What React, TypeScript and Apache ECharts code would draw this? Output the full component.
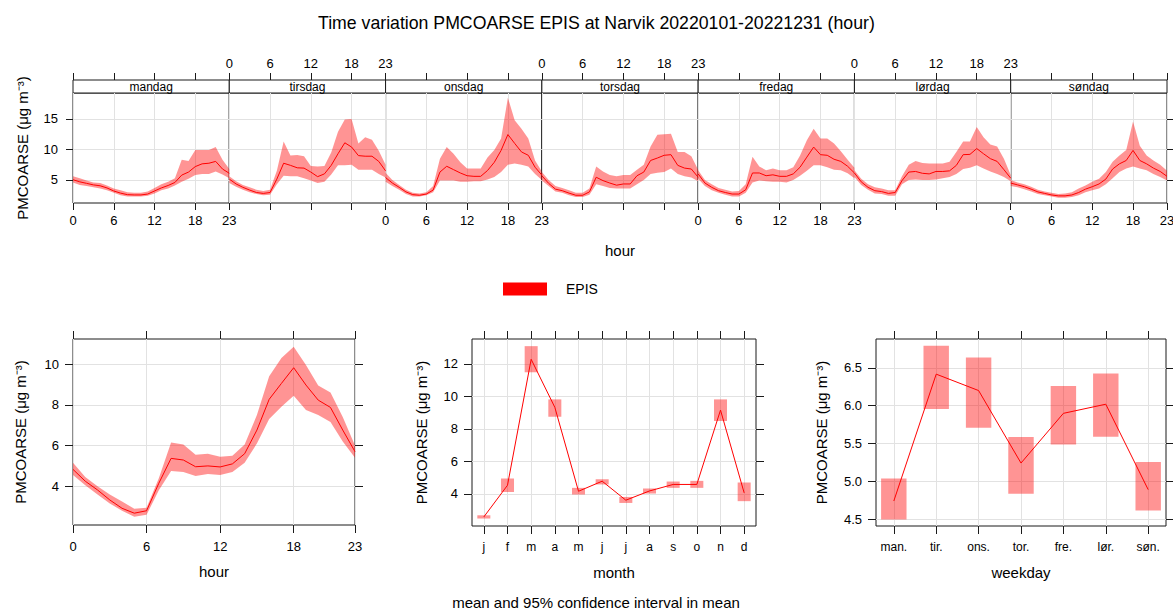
import React, { useEffect, useRef } from 'react';
import * as echarts from 'echarts';

const TITLE = 'Time variation PMCOARSE EPIS at Narvik 20220101-20221231 (hour)';
const Y_NAME = 'PMCOARSE (μg m⁻³)';
const SITE = 'EPIS';
const CAPTION = 'mean and 95% confidence interval in mean';

const DAYS = ['mandag', 'tirsdag', 'onsdag', 'torsdag', 'fredag', 'lørdag', 'søndag'];
const HOURS = [0, 1, 2, 3, 4, 5, 6, 7, 8, 9, 10, 11, 12, 13, 14, 15, 16, 17, 18, 19, 20, 21, 22, 23];
const HOUR_TICKS = [0, 6, 12, 18, 23];
const MONTHS = ['j', 'f', 'm', 'a', 'm', 'j', 'j', 'a', 's', 'o', 'n', 'd'];
const MONTH_POS = [0, 1, 2, 3, 4, 5, 6, 7, 8, 9, 10, 11];
const WEEKDAYS = ['man.', 'tir.', 'ons.', 'tor.', 'fre.', 'lør.', 'søn.'];
const WEEKDAY_POS = [0, 1, 2, 3, 4, 5, 6];
const DAYHOUR_Y_TICKS = [5, 10, 15];
const HOUR_Y_TICKS = [4, 6, 8, 10];
const MONTH_Y_TICKS = [4, 6, 8, 10, 12];
const WEEKDAY_Y_TICKS = [4.5, 5.0, 5.5, 6.0, 6.5];

// day-hour panels
const MON_MEAN = [5.05, 4.7, 4.45, 4.2, 4.05, 3.7, 3.2, 2.85, 2.6, 2.55, 2.55, 2.7, 3.2, 3.7, 4.1, 4.6, 5.8, 6.3, 7.2, 7.65, 7.75, 8.05, 6.8, 6.1];
const MON_LOWER = [4.6, 4.2, 4.0, 3.8, 3.6, 3.3, 2.9, 2.5, 2.3, 2.3, 2.3, 2.4, 2.8, 3.3, 3.6, 4.1, 4.7, 5.2, 5.8, 6.0, 6.0, 6.4, 5.9, 5.3];
const MON_UPPER = [5.6, 5.3, 4.9, 4.6, 4.5, 4.1, 3.6, 3.3, 3.0, 2.9, 2.9, 3.1, 3.7, 4.3, 4.7, 5.3, 8.3, 8.1, 9.9, 9.9, 9.9, 10.4, 8.3, 6.8];

const TUE_MEAN = [5.15, 4.35, 3.8, 3.35, 2.95, 2.8, 2.95, 5.15, 7.75, 7.4, 7.0, 6.95, 6.3, 5.55, 6.0, 7.4, 9.3, 11.1, 10.4, 9.0, 8.9, 8.9, 8.05, 6.5];
const TUE_LOWER = [4.5, 3.9, 3.4, 3.0, 2.7, 2.5, 2.6, 4.3, 5.7, 5.6, 5.6, 5.3, 4.9, 4.5, 4.7, 5.9, 7.4, 7.4, 7.5, 6.7, 6.7, 6.7, 6.0, 5.4];
const TUE_UPPER = [5.6, 4.8, 4.2, 3.8, 3.4, 3.2, 3.4, 6.5, 11.3, 9.0, 9.1, 8.9, 7.3, 7.2, 7.3, 9.5, 12.9, 14.9, 15.0, 11.0, 12.0, 11.6, 9.8, 7.5];

const WED_MEAN = [5.4, 4.5, 3.8, 3.05, 2.6, 2.5, 2.7, 3.35, 6.3, 7.25, 6.7, 6.15, 5.7, 5.6, 5.6, 6.55, 7.9, 9.85, 12.45, 11.0, 9.6, 9.05, 7.1, 5.8];
const WED_LOWER = [4.7, 4.0, 3.4, 2.7, 2.3, 2.3, 2.5, 3.0, 4.9, 4.9, 4.9, 4.7, 4.7, 4.8, 4.8, 5.1, 5.5, 6.3, 7.5, 7.7, 7.5, 7.2, 6.0, 5.0];
const WED_UPPER = [6.2, 5.0, 4.2, 3.4, 2.9, 2.8, 3.0, 4.0, 8.5, 10.4, 9.3, 7.9, 6.9, 6.9, 6.9, 8.7, 9.9, 11.8, 18.5, 14.8, 13.4, 11.8, 8.2, 6.4];

const THU_MEAN = [5.7, 4.45, 3.5, 3.25, 2.85, 2.5, 2.5, 3.05, 5.45, 4.9, 4.5, 4.15, 4.35, 4.35, 5.7, 6.3, 8.2, 8.6, 9.05, 9.15, 7.4, 6.95, 6.8, 5.45];
const THU_LOWER = [4.9, 4.0, 3.1, 2.9, 2.5, 2.2, 2.2, 2.6, 4.3, 4.0, 3.7, 3.6, 3.6, 3.6, 4.3, 5.0, 6.0, 6.2, 6.3, 6.9, 6.0, 5.6, 5.4, 4.8];
const THU_UPPER = [6.3, 5.0, 4.0, 3.7, 3.3, 2.9, 2.9, 3.6, 7.2, 6.4, 5.8, 5.6, 5.8, 5.8, 6.7, 7.5, 10.5, 12.4, 12.5, 12.6, 9.6, 9.6, 8.9, 6.7];

const FRI_MEAN = [6.0, 4.5, 3.8, 3.25, 2.95, 2.7, 2.7, 3.4, 6.15, 6.15, 5.7, 5.85, 5.6, 5.6, 6.0, 7.1, 8.75, 10.4, 9.15, 9.05, 8.4, 8.05, 7.25, 6.15];
const FRI_LOWER = [5.2, 4.0, 3.3, 2.9, 2.6, 2.3, 2.3, 2.9, 4.6, 4.9, 4.8, 4.7, 4.7, 4.6, 5.0, 5.7, 6.5, 7.4, 7.4, 7.1, 6.7, 6.6, 6.1, 5.3];
const FRI_UPPER = [6.6, 5.0, 4.3, 3.7, 3.4, 3.1, 3.2, 4.3, 8.8, 7.2, 6.6, 6.9, 6.6, 6.6, 7.1, 9.0, 11.5, 13.4, 11.8, 11.8, 11.0, 9.7, 8.3, 7.0];

const SAT_MEAN = [6.15, 4.7, 3.8, 3.25, 3.1, 2.8, 2.95, 4.9, 6.3, 6.4, 6.1, 6.0, 6.4, 6.4, 6.5, 7.4, 9.15, 9.2, 10.15, 9.3, 8.5, 8.05, 6.7, 5.3];
const SAT_LOWER = [5.5, 4.2, 3.4, 2.8, 2.7, 2.4, 2.4, 4.3, 5.0, 5.1, 5.0, 5.0, 5.1, 5.3, 5.5, 6.0, 6.8, 7.0, 7.4, 6.9, 6.4, 6.0, 5.5, 4.8];
const SAT_UPPER = [6.6, 5.2, 4.3, 3.8, 3.6, 3.3, 3.3, 5.6, 7.5, 8.1, 7.8, 7.7, 7.7, 7.7, 8.0, 9.6, 11.3, 11.3, 13.7, 12.0, 10.8, 10.5, 8.5, 5.8];

const SUN_MEAN = [4.5, 4.2, 3.9, 3.5, 3.05, 2.8, 2.55, 2.4, 2.4, 2.55, 2.95, 3.5, 3.9, 4.35, 5.15, 6.8, 7.65, 8.2, 9.85, 8.2, 7.65, 6.95, 6.4, 5.6];
const SUN_LOWER = [4.0, 3.8, 3.5, 3.1, 2.7, 2.5, 2.3, 2.1, 2.1, 2.2, 2.5, 3.0, 3.3, 3.6, 4.3, 5.3, 6.3, 6.9, 7.2, 6.9, 6.6, 6.0, 5.5, 4.9];
const SUN_UPPER = [5.0, 4.6, 4.3, 3.9, 3.4, 3.1, 2.9, 2.7, 2.8, 3.0, 3.6, 4.1, 4.7, 5.2, 6.3, 8.0, 9.0, 9.9, 14.6, 10.6, 9.0, 8.2, 7.5, 6.5];

const DAY_MEANS = [MON_MEAN, TUE_MEAN, WED_MEAN, THU_MEAN, FRI_MEAN, SAT_MEAN, SUN_MEAN];
const DAY_LOWERS = [MON_LOWER, TUE_LOWER, WED_LOWER, THU_LOWER, FRI_LOWER, SAT_LOWER, SUN_LOWER];
const DAY_UPPERS = [MON_UPPER, TUE_UPPER, WED_UPPER, THU_UPPER, FRI_UPPER, SAT_UPPER, SUN_UPPER];

// hour panel
const HOUR_MEAN = [4.83, 4.25, 3.82, 3.33, 2.92, 2.68, 2.8, 4.15, 5.37, 5.29, 4.96, 5.0, 4.95, 5.1, 5.6, 6.76, 8.27, 9.05, 9.82, 8.97, 8.23, 7.87, 6.76, 5.7];
const HOUR_LOWER = [4.55, 4.05, 3.6, 3.15, 2.8, 2.5, 2.6, 3.8, 4.75, 4.7, 4.5, 4.6, 4.55, 4.7, 5.15, 6.1, 7.3, 7.9, 8.45, 7.75, 7.5, 7.15, 6.2, 5.4];
const HOUR_UPPER = [5.15, 4.45, 4.0, 3.6, 3.25, 2.9, 2.95, 4.4, 6.15, 6.05, 5.55, 5.6, 5.45, 5.5, 6.05, 7.5, 9.4, 10.3, 10.85, 9.95, 8.95, 8.6, 7.4, 6.0];

// month panel
const MONTH_MEAN = [2.58, 4.53, 12.29, 9.33, 4.16, 4.78, 3.61, 4.18, 4.58, 4.58, 9.16, 4.06];
const MONTH_LOWER = [2.48, 4.12, 11.49, 8.75, 3.96, 4.58, 3.44, 4.02, 4.37, 4.37, 8.49, 3.55];
const MONTH_UPPER = [2.68, 4.95, 13.1, 9.82, 4.37, 4.9, 3.81, 4.33, 4.76, 4.8, 9.82, 4.7];

// weekday panel
const WEEKDAY_MEAN = [4.745, 6.416, 6.2, 5.245, 5.9, 6.02, 4.895];
const WEEKDAY_LOWER = [4.5, 5.956, 5.71, 4.84, 5.49, 5.59, 4.62];
const WEEKDAY_UPPER = [5.04, 6.79, 6.636, 5.588, 6.26, 6.425, 5.26];

const FONT = '"Liberation Sans", Arial, sans-serif';
const LINE = '#ff0000';
const BAND = 'rgba(255,0,0,0.42)';
const AXIS = '#1a1a1a';
const GRIDLINE = '#e2e2e2';
const TXT = '#000';

function buildOption() {
  const grids: any[] = [];
  const xAxes: any[] = [];
  const yAxes: any[] = [];
  const series: any[] = [];
  const graphics: any[] = [];

  const labelStyle = (size: number) => ({ fontSize: size, color: TXT, fontFamily: FONT });

  const xAxis = (gi: number, position: string, opts: any) => ({
    gridIndex: gi,
    type: 'value',
    position,
    offset: opts.offset || 0,
    min: opts.min,
    max: opts.max,
    axisLine: { show: false, onZero: false },
    axisTick: { show: true, inside: false, length: opts.tickLen, customValues: opts.ticks, lineStyle: { color: AXIS, width: 1 } },
    axisLabel: {
      show: !!opts.showLabels,
      customValues: opts.ticks,
      margin: opts.margin || 8,
      formatter: opts.formatter,
      ...labelStyle(opts.fontSize || 13),
    },
    splitLine: { show: !!opts.split, lineStyle: { color: GRIDLINE, width: 1 } },
    name: opts.name || '',
    nameLocation: 'middle',
    nameGap: opts.nameGap || 30,
    nameTextStyle: labelStyle(15),
  });

  const yAxis = (gi: number, position: string, opts: any) => ({
    gridIndex: gi,
    type: 'value',
    position,
    min: opts.min,
    max: opts.max,
    axisLine: { show: false, onZero: false },
    axisTick: { show: !!opts.showTicks, inside: false, length: opts.tickLen, customValues: opts.ticks, lineStyle: { color: AXIS, width: 1 } },
    axisLabel: {
      show: !!opts.showLabels,
      customValues: opts.ticks,
      margin: opts.margin || 8,
      formatter: opts.formatter,
      ...labelStyle(13),
    },
    splitLine: { show: !!opts.split, lineStyle: { color: GRIDLINE, width: 1 } },
    name: opts.name || '',
    nameLocation: 'middle',
    nameGap: opts.nameGap || 40,
    nameTextStyle: labelStyle(15),
  });

  // confidence band drawn as one polygon through the axes' own coordinate mapping
  const bandSeries = (xi: number, yi: number, xs: number[], lo: number[], hi: number[], mean: number[], name?: string) => [
    {
      type: 'custom', xAxisIndex: xi, yAxisIndex: yi, silent: true, z: 1, clip: true,
      data: xs.map((x, k) => [x, lo[k], hi[k]]),
      encode: { x: 0, y: [1, 2] },
      renderItem: (params: any, api: any) => {
        if (params.dataIndexInside !== 0) return null;
        const n = params.dataInsideLength;
        const upper: number[][] = [];
        const lower: number[][] = [];
        for (let k = 0; k < n; k++) {
          upper.push(api.coord([api.value(0, k), api.value(2, k)]));
          lower.push(api.coord([api.value(0, k), api.value(1, k)]));
        }
        return {
          type: 'polygon',
          shape: { points: upper.concat(lower.reverse()) },
          style: { fill: BAND, stroke: 'none' },
        };
      },
    },
    {
      type: 'line', name, xAxisIndex: xi, yAxisIndex: yi,
      data: xs.map((x, k) => [x, mean[k]]), symbol: 'none', silent: true,
      lineStyle: { color: LINE, width: 1 }, itemStyle: { color: LINE }, z: 5,
    },
  ];

  const rectSeries = (xi: number, yi: number, xs: number[], lo: number[], hi: number[], frac: number) => ({
    type: 'custom', xAxisIndex: xi, yAxisIndex: yi, silent: true, z: 1,
    data: xs.map((x, k) => [x, lo[k], hi[k]]),
    encode: { x: 0, y: [1, 2] },
    renderItem: (params: any, api: any) => {
      const x = api.value(0);
      const top = api.coord([x, api.value(2)]);
      const bot = api.coord([x, api.value(1)]);
      const w = api.size([1, 0])[0] * frac;
      return {
        type: 'rect',
        shape: { x: top[0] - w / 2, y: top[1], width: w, height: bot[1] - top[1] },
        style: { fill: BAND, stroke: 'none' },
      };
    },
  });

  // ---------- top: day-hour panels ----------
  const T_LEFT = 73, T_RIGHT = 1167, T_TOP = 93, T_BOTTOM = 203, STRIP_TOP = 80;
  const pw = (T_RIGHT - T_LEFT) / DAYS.length;
  DAYS.forEach((day, i) => {
    const gi = grids.length;
    const left = T_LEFT + i * pw;
    grids.push({ left, top: T_TOP, width: pw, height: T_BOTTOM - T_TOP, show: true, borderColor: AXIS, borderWidth: 1, backgroundColor: 'transparent', outerBoundsMode: 'none', containLabel: false });
    const xb = xAxes.length;
    xAxes.push(xAxis(gi, 'bottom', { min: 0, max: 23, ticks: HOUR_TICKS, tickLen: 7, showLabels: i % 2 === 0, margin: 11, split: true }));
    xAxes.push(xAxis(gi, 'top', { min: 0, max: 23, ticks: HOUR_TICKS, tickLen: 7, showLabels: i % 2 === 1, margin: 10, offset: T_TOP - STRIP_TOP }));
    const yl = yAxes.length;
    yAxes.push(yAxis(gi, 'left', { min: 1.23, max: 19.26, ticks: DAYHOUR_Y_TICKS, tickLen: 7, showTicks: i === 0, showLabels: i === 0, margin: 15, split: true, name: i === 0 ? Y_NAME : '', nameGap: 43 }));
    if (i === DAYS.length - 1) {
      yAxes.push(yAxis(gi, 'right', { min: 1.23, max: 19.26, ticks: DAYHOUR_Y_TICKS, tickLen: 7, showTicks: true }));
    }
    series.push(...bandSeries(xb, yl, HOURS, DAY_LOWERS[i], DAY_UPPERS[i], DAY_MEANS[i]));
    graphics.push({
      type: 'rect', silent: true,
      shape: { x: left, y: STRIP_TOP, width: pw, height: T_TOP - STRIP_TOP },
      style: { fill: '#fff', stroke: AXIS, lineWidth: 1 },
    });
    graphics.push({
      type: 'text', silent: true, x: left + pw / 2, y: (STRIP_TOP + T_TOP) / 2 + 0.5,
      style: { text: day, fill: TXT, font: `12px ${FONT}`, textAlign: 'center', textVerticalAlign: 'middle' },
    });
  });
  graphics.push({
    type: 'text', silent: true, x: (T_LEFT + T_RIGHT) / 2, y: 250,
    style: { text: 'hour', fill: TXT, font: `15px ${FONT}`, textAlign: 'center', textVerticalAlign: 'middle' },
  });

  // ---------- bottom panels ----------
  const B_TOP = 339;
  const addPanel = (p: any) => {
    const gi = grids.length;
    grids.push({ left: p.left, top: B_TOP, width: p.width, height: p.height, show: true, borderColor: AXIS, borderWidth: 1, backgroundColor: 'transparent', outerBoundsMode: 'none', containLabel: false });
    const xi = xAxes.length;
    xAxes.push(xAxis(gi, 'bottom', { min: p.xMin, max: p.xMax, ticks: p.xTicks, tickLen: 8, showLabels: true, margin: 15, split: true, formatter: p.xFormatter, name: p.xName, nameGap: 39, fontSize: p.xFont }));
    xAxes.push(xAxis(gi, 'top', { min: p.xMin, max: p.xMax, ticks: p.xTicks, tickLen: 8 }));
    const yi = yAxes.length;
    yAxes.push(yAxis(gi, 'left', { min: p.yMin, max: p.yMax, ticks: p.yTicks, tickLen: 8, showTicks: true, showLabels: true, margin: 14, split: true, formatter: p.yFormatter, name: Y_NAME, nameGap: p.yNameGap }));
    yAxes.push(yAxis(gi, 'right', { min: p.yMin, max: p.yMax, ticks: p.yTicks, tickLen: 8, showTicks: true }));
    return { xi, yi };
  };

  const hp = addPanel({ left: 73, width: 282, height: 186, xMin: 0, xMax: 23, xTicks: HOUR_TICKS, xName: 'hour', yMin: 2.1, yMax: 11.23, yTicks: HOUR_Y_TICKS, yNameGap: 45 });
  series.push(...bandSeries(hp.xi, hp.yi, HOURS, HOUR_LOWER, HOUR_UPPER, HOUR_MEAN, SITE));

  const mp = addPanel({ left: 472, width: 284, height: 187, xMin: -0.5, xMax: 11.5, xTicks: MONTH_POS, xFormatter: (v: number) => MONTHS[Math.round(v)], xName: 'month', xFont: 12, yMin: 2.02, yMax: 13.54, yTicks: MONTH_Y_TICKS, yNameGap: 43 });
  series.push(rectSeries(mp.xi, mp.yi, MONTH_POS, MONTH_LOWER, MONTH_UPPER, 0.55));
  series.push({ type: 'line', xAxisIndex: mp.xi, yAxisIndex: mp.yi, data: MONTH_POS.map((x, k) => [x, MONTH_MEAN[k]]), symbol: 'none', silent: true, lineStyle: { color: LINE, width: 1 }, z: 5 });

  const wp = addPanel({ left: 876, width: 290, height: 187, xMin: -0.42, xMax: 6.42, xTicks: WEEKDAY_POS, xFormatter: (v: number) => WEEKDAYS[Math.round(v)], xName: 'weekday', xFont: 12, yMin: 4.416, yMax: 6.879, yTicks: WEEKDAY_Y_TICKS, yFormatter: (v: number) => v.toFixed(1), yNameGap: 47 });
  series.push(rectSeries(wp.xi, wp.yi, WEEKDAY_POS, WEEKDAY_LOWER, WEEKDAY_UPPER, 0.6));
  series.push({ type: 'line', xAxisIndex: wp.xi, yAxisIndex: wp.yi, data: WEEKDAY_POS.map((x, k) => [x, WEEKDAY_MEAN[k]]), symbol: 'none', silent: true, lineStyle: { color: LINE, width: 1 }, z: 5 });

  graphics.push({
    type: 'text', silent: true, x: 596, y: 602,
    style: { text: CAPTION, fill: TXT, font: `15px ${FONT}`, textAlign: 'center', textVerticalAlign: 'middle' },
  });

  return {
    animation: false,
    backgroundColor: '#fff',
    title: {
      text: TITLE, left: 318, top: 14, padding: 0,
      textStyle: { fontSize: 17.7, fontWeight: 'normal', color: TXT, fontFamily: FONT },
    },
    legend: {
      left: 503, top: 282, padding: 0, itemWidth: 44, itemHeight: 13, selectedMode: false,
      data: [{ name: SITE, icon: 'rect', itemStyle: { color: LINE, borderWidth: 0 } }],
      textStyle: { fontSize: 14, color: TXT, fontFamily: FONT, padding: [0, 0, 0, 14] },
    },
    grid: grids,
    xAxis: xAxes,
    yAxis: yAxes,
    series,
    graphic: graphics,
  };
}

export default function App() {
  const ref = useRef<HTMLDivElement>(null);
  useEffect(() => {
    if (!ref.current) return;
    const chart = echarts.init(ref.current, null, { renderer: 'svg' });
    chart.setOption(buildOption() as any);
    return () => chart.dispose();
  }, []);
  return (
    <div
      ref={ref}
      style={{ position: 'fixed', left: 0, top: 0, width: 1173, height: 610, background: '#fff' }}
    />
  );
}
